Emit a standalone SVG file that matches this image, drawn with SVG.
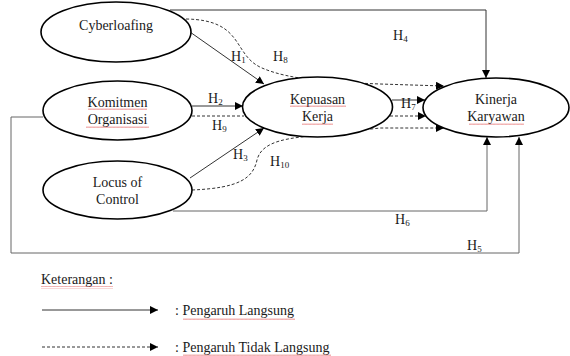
<svg xmlns="http://www.w3.org/2000/svg" width="570" height="356" viewBox="0 0 570 356">
<defs>
<marker id="arr" viewBox="0 0 10 10" refX="10" refY="5" markerWidth="8" markerHeight="8" markerUnits="userSpaceOnUse" orient="auto">
<path d="M0,0 L10,5 L0,10 z" fill="#000"/>
</marker>
<pattern id="sq" width="4" height="3" patternUnits="userSpaceOnUse">
<path d="M0,2 L1,0.5 L2,2 L3,0.5 L4,2" fill="none" stroke="#e05050" stroke-width="0.6"/>
</pattern>
</defs>
<style>
.node ellipse{fill:#fff;stroke:#000;stroke-width:1.6}
text{font-family:"Liberation Serif","Times New Roman",serif;font-size:14px;fill:#1a1a1a}
.c{text-anchor:middle}
.s{font-size:9px}
.ln{fill:none;stroke:#333;stroke-width:1}
.d{stroke-dasharray:3,2}
.g{stroke:#666}
.sq{fill:url(#sq);opacity:0.8}
</style>
<rect width="570" height="356" fill="#fff"/>
<g id="connectors">
<polyline class="ln" points="170,10 486,10 486,78" marker-end="url(#arr)"/>
<line class="ln" x1="190" y1="32" x2="264" y2="84" marker-end="url(#arr)"/>
<path class="ln d" d="M186,19 C245,20 232,55 262,68 C290,80 330,82 380,84 L444,86" marker-end="url(#arr)"/>
<line class="ln" x1="192" y1="106" x2="243" y2="106" marker-end="url(#arr)"/>
<line class="ln d" x1="192" y1="116" x2="244" y2="116"/>
<line class="ln" x1="392" y1="100" x2="425" y2="100" marker-end="url(#arr)"/>
<line class="ln d" x1="390" y1="116" x2="426" y2="116" marker-end="url(#arr)"/>
<line class="ln" x1="190" y1="178" x2="264" y2="128" marker-end="url(#arr)"/>
<path class="ln d" d="M192,190 C240,188 253,178 257,160 C262,140 290,138 320,135 L380,128 L444,128" marker-end="url(#arr)"/>
<polyline class="ln g" points="173,211 487,211 487,137" marker-end="url(#arr)"/>
<polyline class="ln g" points="43,117 11,117 11,253 519,253 519,137" marker-end="url(#arr)"/>
</g>
<g id="cyberloafing" class="node">
<ellipse cx="116" cy="32" rx="75" ry="30"/>
<text class="c" x="116" y="30">Cyberloafing</text>
</g>
<g id="komitmen" class="node">
<ellipse cx="117.5" cy="110.5" rx="74.5" ry="29.5"/>
<text class="c" x="117.5" y="107">Komitmen</text>
<text class="c" x="117.5" y="124">Organisasi</text>
<rect class="sq" x="88" y="108" width="59" height="3"/>
<rect class="sq" x="86" y="125" width="63" height="3"/>
</g>
<g id="locus" class="node">
<ellipse cx="117.5" cy="190" rx="74.5" ry="29"/>
<text class="c" x="117.5" y="187">Locus of</text>
<text class="c" x="117.5" y="204">Control</text>
</g>
<g id="kepuasan" class="node">
<ellipse cx="317.5" cy="107" rx="75" ry="30"/>
<text class="c" x="317.5" y="104">Kepuasan</text>
<text class="c" x="317.5" y="121">Kerja</text>
<rect class="sq" x="290" y="105" width="56" height="3"/>
<rect class="sq" x="302" y="122" width="31" height="3"/>
</g>
<g id="kinerja" class="node">
<ellipse cx="496" cy="107.5" rx="73" ry="29.5"/>
<text class="c" x="496" y="104">Kinerja</text>
<text class="c" x="496" y="121">Karyawan</text>
<rect class="sq" x="469" y="122" width="55" height="3"/>
</g>
<g id="labels">
<text x="231" y="61">H<tspan class="s" dy="2">1</tspan></text>
<text x="273" y="61">H<tspan class="s" dy="2">8</tspan></text>
<text x="393" y="40">H<tspan class="s" dy="2">4</tspan></text>
<text x="208" y="103">H<tspan class="s" dy="2">2</tspan></text>
<text x="212" y="130">H<tspan class="s" dy="2">9</tspan></text>
<text x="401" y="108">H<tspan class="s" dy="2">7</tspan></text>
<text x="233" y="159">H<tspan class="s" dy="2">3</tspan></text>
<text x="270" y="166">H<tspan class="s" dy="2">10</tspan></text>
<text x="395" y="224">H<tspan class="s" dy="2">6</tspan></text>
<text x="467" y="250">H<tspan class="s" dy="2">5</tspan></text>
</g>
<g id="legend">
<text x="41" y="284">Keterangan :</text>
<rect class="sq" x="41" y="286" width="72" height="3"/>
<line class="ln" x1="42" y1="310" x2="158" y2="310" marker-end="url(#arr)"/>
<text x="175" y="315">: Pengaruh Langsung</text>
<rect class="sq" x="183" y="317" width="112" height="3"/>
<line class="ln d" x1="42" y1="347" x2="158" y2="347" marker-end="url(#arr)"/>
<text x="175" y="352">: Pengaruh Tidak Langsung</text>
<rect class="sq" x="183" y="354" width="148" height="2"/>
</g>
</svg>
